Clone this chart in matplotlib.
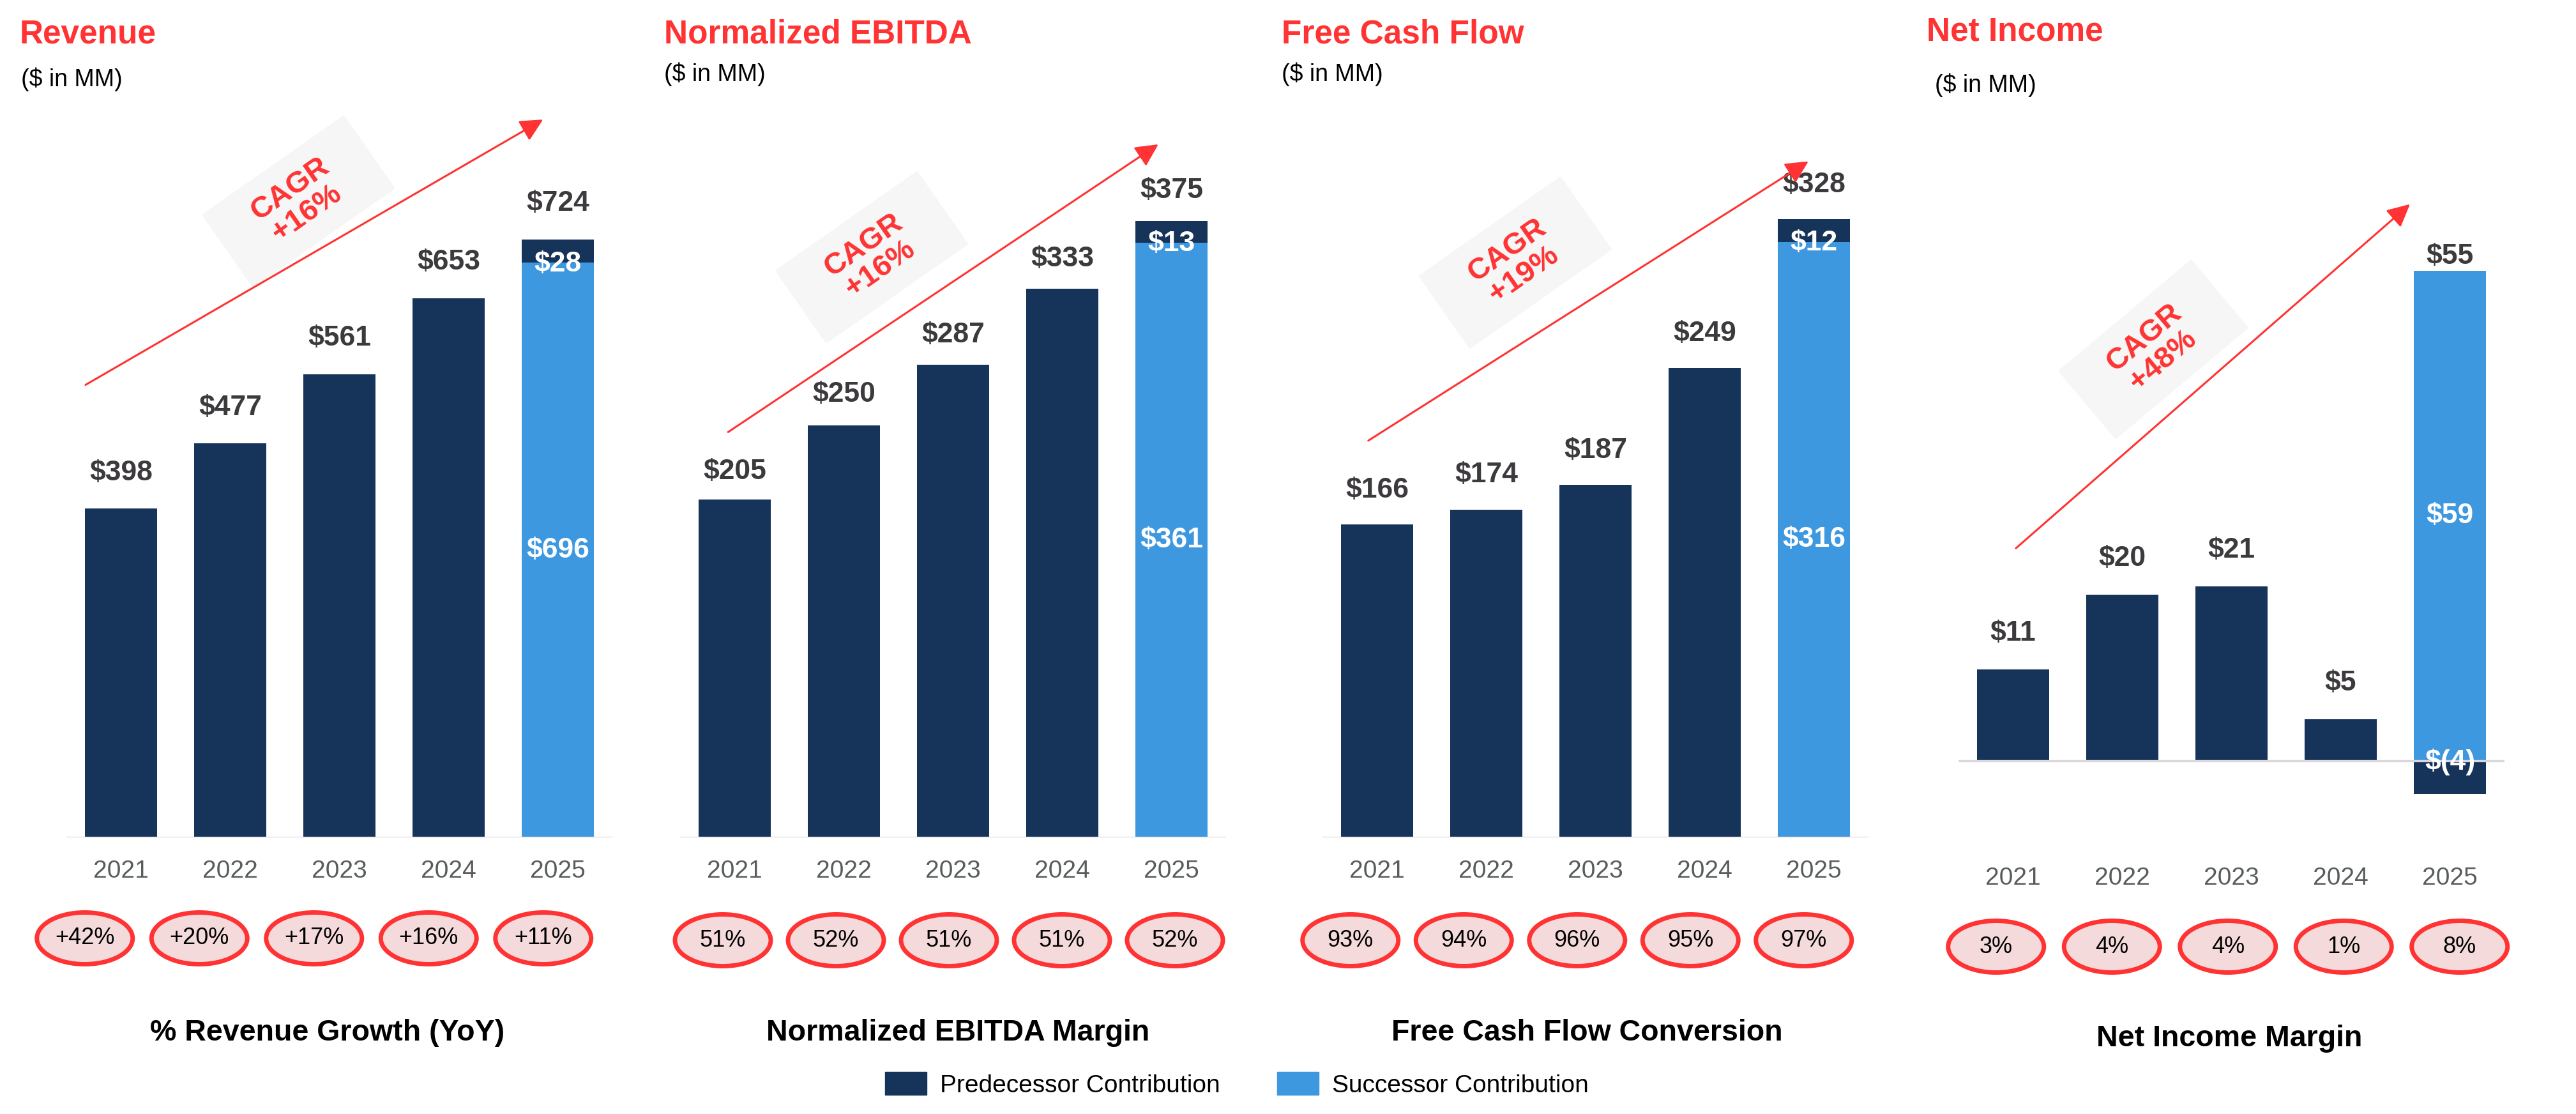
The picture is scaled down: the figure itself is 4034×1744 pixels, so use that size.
import matplotlib.pyplot as plt
from matplotlib import transforms
from matplotlib.patches import Ellipse, Rectangle, Patch

plt.rcParams['font.family'] = ['Liberation Sans', 'DejaVu Sans']

years = ['2021', '2022', '2023', '2024', '2025']

# $MM, 2025 split into predecessor / successor contribution
revenue_pred = [398, 477, 561, 653, 28]
revenue_succ = [0, 0, 0, 0, 696]
revenue_total = [398, 477, 561, 653, 724]
revenue_growth = ['+42%', '+20%', '+17%', '+16%', '+11%']

ebitda_pred = [205, 250, 287, 333, 13]
ebitda_succ = [0, 0, 0, 0, 361]
ebitda_total = [205, 250, 287, 333, 375]
ebitda_margin = ['51%', '52%', '51%', '51%', '52%']

fcf_pred = [166, 174, 187, 249, 12]
fcf_succ = [0, 0, 0, 0, 316]
fcf_total = [166, 174, 187, 249, 328]
fcf_conversion = ['93%', '94%', '96%', '95%', '97%']

ni_pred = [11, 20, 21, 5, -4]
ni_succ = [0, 0, 0, 0, 59]
ni_total = [11, 20, 21, 5, 55]
ni_margin = ['3%', '4%', '4%', '1%', '8%']

cagr = ['+16%', '+16%', '+19%', '+48%']

NAVY = '#16335a'
BLUE = '#3d98e0'
RED = '#ff3333'
PINK = '#f4dada'
AXIS = '#ddd5dd'
LABEL = '#3d3a3e'
YEAR = '#585c5c'

W, H = 4034, 1744
TOP = 100
AX_W = 855


def fx(px):
    return px / W


def fy(py):
    return 1 - py / H


def money(v):
    return f'${v}' if v >= 0 else f'$({-v})'


fig = plt.figure(figsize=(W / 100, H / 100), dpi=100)

# layout of each panel, in pixels of the final image
panels = [
    dict(title='Revenue', metric='% Revenue Growth (YoY)', left=104, base=1311, bottom=1311,
         scale=1.293, gap=[56] * 5, title_x=31, title_y=68, sub_x=33, sub_y=135, pad=25,
         box=(0.425, 0.822), angle=35, arrow=((0.035, 0.585), (0.873, 0.928)),
         ell_left=43, ell_step=179.5, ell_y=1469, metric_x=513, metric_y=1617),
    dict(title='Normalized EBITDA', metric='Normalized EBITDA Margin', left=1065, base=1311,
         bottom=1311, scale=2.58, gap=[44, 48, 46, 46, 48], title_x=1040, title_y=68, sub_x=1040,
         sub_y=127, pad=25, box=(0.351, 0.750), angle=35, arrow=((0.088, 0.524), (0.876, 0.896)),
         ell_left=1043.5, ell_step=177, ell_y=1472, metric_x=1500, metric_y=1617),
    dict(title='Free Cash Flow', metric='Free Cash Flow Conversion', left=2071, base=1311,
         bottom=1311, scale=2.95, gap=[54] * 5, title_x=2007, title_y=68, sub_x=2007, sub_y=127,
         pad=25, box=(0.353, 0.743), angle=35, arrow=((0.084, 0.513), (0.890, 0.874)),
         ell_left=2026, ell_step=177.5, ell_y=1472, metric_x=2485, metric_y=1617),
    dict(title='Net Income', metric='Net Income Margin', left=3067, base=1191, bottom=1300,
         scale=13.0, gap=[57, 57, 57, 57, 22], title_x=3017, title_y=64, sub_x=3030, sub_y=144,
         pad=41, box=(0.357, 0.6275), angle=40, arrow=((0.105, 0.368), (0.827, 0.817)),
         ell_left=3035, ell_step=181.5, ell_y=1482, metric_x=3491, metric_y=1626),
]

series = [
    (revenue_pred, revenue_succ, revenue_total, revenue_growth),
    (ebitda_pred, ebitda_succ, ebitda_total, ebitda_margin),
    (fcf_pred, fcf_succ, fcf_total, fcf_conversion),
    (ni_pred, ni_succ, ni_total, ni_margin),
]

for cfg, (pred, succ, total, pct), cagr_txt in zip(panels, series, cagr):
    height = cfg['bottom'] - TOP
    ax = fig.add_axes([fx(cfg['left']), fy(cfg['bottom']), AX_W / W, height / H])
    x = list(range(len(years)))
    pred_bottom = [s if p >= 0 else 0 for p, s in zip(pred, succ)]

    ax.bar(x, succ, width=0.66, color=BLUE)
    ax.bar(x, pred, bottom=pred_bottom, width=0.66, color=NAVY)
    ax.axhline(0, color=AXIS, lw=2.4)

    ax.set_xlim(-0.5, 4.5)
    ax.set_ylim(-(cfg['bottom'] - cfg['base']) / cfg['scale'], (cfg['base'] - TOP) / cfg['scale'])
    ax.set_xticks(x, years)
    ax.set_yticks([])
    ax.tick_params(axis='x', length=0, pad=cfg['pad'], labelsize=28, labelcolor=YEAR)
    for s in ax.spines.values():
        s.set_visible(False)

    for i in x:
        top = max(pred_bottom[i] + pred[i], succ[i])
        ax.annotate(money(total[i]), (i, top), xytext=(0, cfg['gap'][i] * 0.72),
                    textcoords='offset points', ha='center', va='center',
                    fontsize=32, fontweight='bold', color=LABEL)
        if succ[i] > 0:
            ax.text(i, succ[i] / 2, money(succ[i]), ha='center', va='center',
                    fontsize=32, fontweight='bold', color='white')
            ax.annotate(money(pred[i]), (i, pred_bottom[i]), xytext=(0, -1.5),
                        textcoords='offset points', ha='center', va='center',
                        fontsize=32, fontweight='bold', color='white', zorder=5)

    # CAGR arrow with its tilted grey tag
    start, tip = cfg['arrow']
    ax.annotate('', xy=tip, xytext=start, xycoords='axes fraction',
                arrowprops=dict(arrowstyle='-|>,head_length=0.4,head_width=0.2',
                                color=RED, lw=2.2, mutation_scale=54,
                                shrinkA=0, shrinkB=0))
    bx, by = cfg['box']
    tag = Rectangle((-1.36, -0.70), 2.72, 1.40, angle=cfg['angle'], rotation_point=(0, 0),
                    facecolor='#f6f6f6', edgecolor='none', clip_on=False, zorder=0.5,
                    transform=fig.dpi_scale_trans
                    + transforms.ScaledTranslation(bx, by, ax.transAxes))
    ax.add_patch(tag)
    ax.text(bx, by, f'CAGR\n{cagr_txt}', transform=ax.transAxes, rotation=cfg['angle'],
            rotation_mode='anchor', ha='center', va='center', linespacing=1.05,
            fontsize=34, fontweight='bold', color=RED, zorder=4)

    # titles
    fig.text(fx(cfg['title_x']), fy(cfg['title_y']), cfg['title'], va='baseline',
             fontsize=37, fontweight='bold', color=RED)
    fig.text(fx(cfg['sub_x']), fy(cfg['sub_y']), '($ in MM)', va='baseline',
             fontsize=27, color='black')

    # percentage bubbles
    strip_w = 5 * cfg['ell_step']
    strip = fig.add_axes([fx(cfg['ell_left']), fy(cfg['ell_y'] + 60), strip_w / W, 120 / H])
    strip.set_xlim(-0.5, 4.5)
    strip.set_ylim(0, 1)
    strip.axis('off')
    for i, label in enumerate(pct):
        bubble = Ellipse((0, 0), 1.50, 0.81, facecolor=PINK, edgecolor=RED, lw=5,
                         transform=fig.dpi_scale_trans
                         + transforms.ScaledTranslation(i, 0.5, strip.transData))
        strip.add_patch(bubble)
        strip.text(i, 0.5, label, ha='center', va='center', fontsize=26, color='black')

    fig.text(fx(cfg['metric_x']), fy(cfg['metric_y']), cfg['metric'], ha='center',
             va='center', fontsize=33.5, fontweight='bold', color='black')

handles = [Patch(color=NAVY, label='Predecessor Contribution'),
           Patch(color=BLUE, label='Successor Contribution')]
fig.legend(handles=handles, loc='center', bbox_to_anchor=(fx(1937), fy(1698)), ncol=2,
           frameon=False, fontsize=28, handlelength=1.67, handleheight=1.03,
           handletextpad=0.54, columnspacing=2.29)

fig.savefig('out.png', dpi=100)
